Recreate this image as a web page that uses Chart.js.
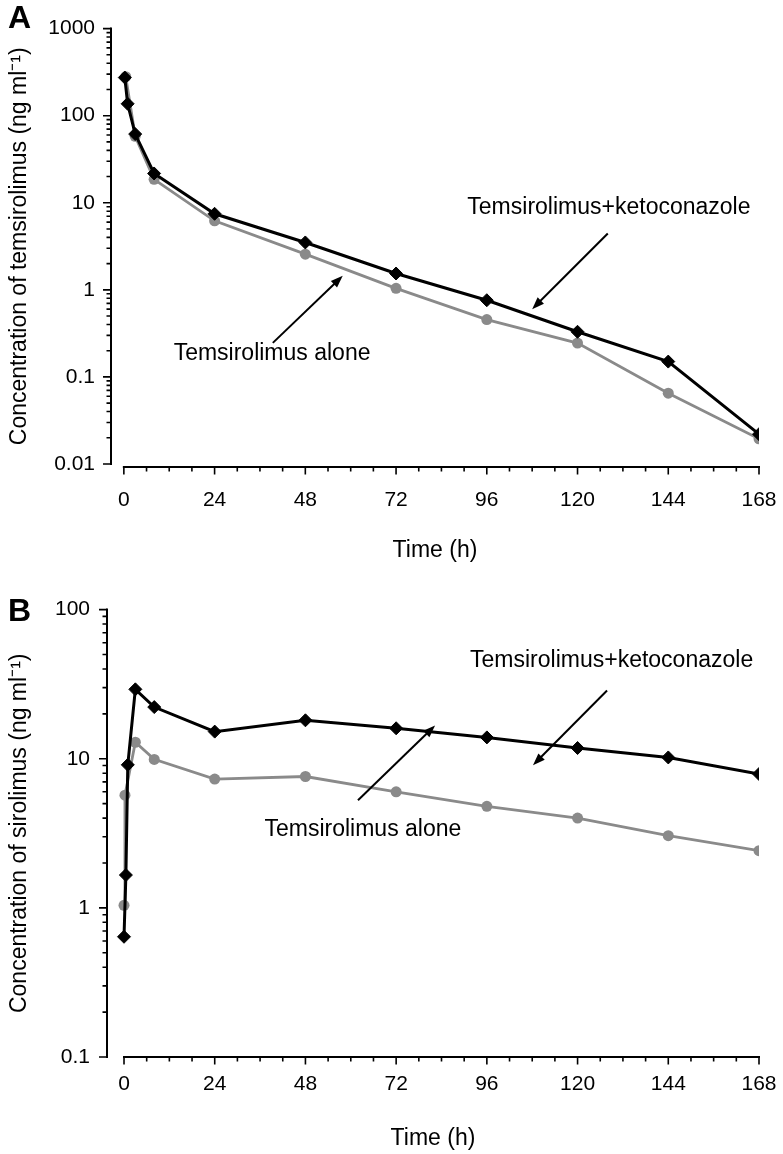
<!DOCTYPE html>
<html>
<head>
<meta charset="utf-8">
<script src="https://cdn.jsdelivr.net/npm/chart.js@4.4.1/dist/chart.umd.min.js"></script>
<style>
  html, body { margin: 0; padding: 0; background: #fff; }
  body { width: 783px; height: 1154px; position: relative; overflow: hidden; }
  canvas { position: absolute; left: 0; }
  #chartA { top: 0; }
  #chartB { top: 580px; }
</style>
</head>
<body>
<canvas id="chartA" width="783" height="580"></canvas>
<canvas id="chartB" width="783" height="574"></canvas>
<script>
// Panel A - temsirolimus in blood (ng/ml)
const timeKetoA = [0.25, 1, 3, 8, 24, 48, 72, 96, 120, 144, 168];
const concKetoA = [274, 137, 61.5, 21.7, 7.47, 3.5, 1.54, 0.76, 0.33, 0.15, 0.022];
const timeAloneA = [0.5, 3, 8, 24, 48, 72, 96, 120, 144, 168];
const concAloneA = [280, 58, 18.6, 6.2, 2.57, 1.04, 0.455, 0.245, 0.065, 0.0195];

// Panel B - sirolimus (metabolite)
const timeKetoB = [0, 0.5, 1, 3, 8, 24, 48, 72, 96, 120, 144, 168];
const concKetoB = [0.64, 1.66, 9.1, 29.2, 22.2, 15.2, 18.1, 16.0, 13.9, 11.8, 10.2, 7.9];
const timeAloneB = [0, 0.25, 3, 8, 24, 48, 72, 96, 120, 144, 168];
const concAloneB = [1.04, 5.7, 12.9, 9.9, 7.3, 7.6, 6.0, 4.8, 4.0, 3.05, 2.42];

// Axis ticks
const xTicks = [0, 24, 48, 72, 96, 120, 144, 168];
const xTickLabels = ["0", "24", "48", "72", "96", "120", "144", "168"];
const yTickLabelsA = ["0.01", "0.1", "1", "10", "100", "1000"];
const yTickLabelsB = ["0.1", "1", "10", "100"];

const fontFamily = '"Liberation Sans", Arial, Helvetica, sans-serif';
Chart.defaults.font.family = fontFamily;
Chart.defaults.color = "#000";

// monta os pontos {x, y} a partir das listas
function toPoints(times, values) {
  return times.map((t, i) => ({ x: t, y: values[i] }));
}

function isDecade(v) {
  const e = Math.log10(v);
  return Math.abs(e - Math.round(e)) < 1e-6;
}

function drawArrow(ctx, x0, y0, x1, y1) {
  const ang = Math.atan2(y1 - y0, x1 - x0);
  const head = 13;
  ctx.beginPath();
  ctx.moveTo(x0, y0);
  ctx.lineTo(x1 - Math.cos(ang) * head * 0.8, y1 - Math.sin(ang) * head * 0.8);
  ctx.stroke();
  ctx.beginPath();
  ctx.moveTo(x1, y1);
  ctx.lineTo(x1 - head * Math.cos(ang - 0.35), y1 - head * Math.sin(ang - 0.35));
  ctx.lineTo(x1 - head * Math.cos(ang + 0.35), y1 - head * Math.sin(ang + 0.35));
  ctx.closePath();
  ctx.fill();
}

// eixos desenhados a mao (eixo x separado do eixo y, ticks menores)
const decorPlugin = {
  id: "decor",
  beforeDatasetsDraw(chart, args, opts) {
    const { ctx, chartArea } = chart;
    const x = chart.scales.x;
    const y = chart.scales.y;
    const left = chartArea.left;
    const yTop = y.getPixelForValue(y.max);
    const yBottom = y.getPixelForValue(y.min);
    ctx.save();
    ctx.strokeStyle = "#000";
    ctx.lineWidth = 2;
    ctx.beginPath();
    ctx.moveTo(left, yTop - 1);
    ctx.lineTo(left, yBottom + 1);
    ctx.stroke();

    ctx.lineWidth = 1.6;
    ctx.beginPath();
    y.ticks.forEach((t) => {
      const py = y.getPixelForValue(t.value);
      const len = isDecade(t.value) ? 8 : 4.5;
      ctx.moveTo(left, py);
      ctx.lineTo(left - len, py);
    });
    ctx.stroke();

    // eixo x
    const xAxisY = chartArea.bottom + opts.xAxisOffset;
    const x0 = x.getPixelForValue(xTicks[0]);
    const x1 = x.getPixelForValue(xTicks[xTicks.length - 1]);
    ctx.lineWidth = 2;
    ctx.beginPath();
    ctx.moveTo(x0 - 1, xAxisY);
    ctx.lineTo(x1 + 1, xAxisY);
    ctx.stroke();
    ctx.lineWidth = 1.6;
    ctx.beginPath();
    for (let h = xTicks[0]; h <= xTicks[xTicks.length - 1]; h += 6) {
      const px = x.getPixelForValue(h);
      const len = h % 24 === 0 ? 7.5 : 4.5;
      ctx.moveTo(px, xAxisY);
      ctx.lineTo(px, xAxisY + len);
    }
    ctx.stroke();
    ctx.restore();
  },
  afterDatasetsDraw(chart, args, opts) {
    const { ctx } = chart;
    const x = chart.scales.x;
    const y = chart.scales.y;
    ctx.save();
    ctx.fillStyle = "#000";
    ctx.strokeStyle = "#000";
    ctx.lineWidth = 2;
    ctx.font = "23px " + fontFamily;
    ctx.textAlign = "center";
    ctx.textBaseline = "middle";
    opts.notes.forEach((n) => {
      ctx.fillText(n.text, x.getPixelForValue(n.at[0]), y.getPixelForValue(n.at[1]));
      drawArrow(
        ctx,
        x.getPixelForValue(n.from[0]), y.getPixelForValue(n.from[1]),
        x.getPixelForValue(n.to[0]), y.getPixelForValue(n.to[1])
      );
    });
    ctx.font = "bold 32px " + fontFamily;
    ctx.textAlign = "left";
    ctx.textBaseline = "alphabetic";
    ctx.fillText(opts.letter, opts.letterPos[0], opts.letterPos[1]);
    ctx.restore();
  },
};

function buildChart(canvasId, cfg) {
  const config = {
    type: "line",
    data: {
      datasets: [
        {
          label: "Temsirolimus+ketoconazole",
          data: toPoints(cfg.timeKeto, cfg.concKeto),
          borderColor: "#000",
          backgroundColor: "#000",
          borderWidth: 3,
          pointStyle: "rectRot",
          pointRadius: 6.5,
          pointBorderWidth: 1,
          tension: 0,
        },
        {
          label: "Temsirolimus alone",
          data: toPoints(cfg.timeAlone, cfg.concAlone),
          borderColor: "#8a8a8a",
          backgroundColor: "#8a8a8a",
          borderWidth: 2.8,
          pointStyle: "circle",
          pointRadius: 5.5,
          pointBorderWidth: 0,
          tension: 0,
        },
      ],
    },
    options: {
      responsive: false,
      animation: false,
      events: [],
      layout: { padding: { top: cfg.areaTop, right: 24, left: 0, bottom: 0 } },
      plugins: {
        legend: { display: false },
        tooltip: { enabled: false },
        decor: {
          notes: cfg.notes,
          letter: cfg.letter,
          letterPos: cfg.letterPos,
          xAxisOffset: cfg.xAxisOffset,
        },
      },
      scales: {
        x: {
          type: "linear",
          min: cfg.xMin,
          max: 168,
          grid: { display: false, drawTicks: false },
          border: { display: false },
          afterBuildTicks: (scale) => {
            scale.ticks = xTicks.map((v) => ({ value: v }));
          },
          afterFit: (scale) => {
            scale.height = cfg.xHeight;
            scale.paddingLeft = 0;
            scale.paddingRight = 0;
          },
          ticks: {
            autoSkip: false,
            maxRotation: 0,
            padding: cfg.xLabelPad,
            font: { size: 21 },
            callback: (value, index) => xTickLabels[index],
          },
          title: {
            display: true,
            text: "Time (h)",
            font: { size: 23 },
            padding: { top: 0, bottom: cfg.xTitlePad },
          },
        },
        y: {
          type: "logarithmic",
          min: cfg.yMin,
          max: cfg.yMax,
          grid: { display: false, drawTicks: false },
          border: { display: false },
          afterBuildTicks: (scale) => {
            const ticks = [];
            for (let e = Math.round(Math.log10(cfg.yMin)); e <= Math.round(Math.log10(cfg.yMax)); e++) {
              for (let k = 1; k <= 9; k++) {
                const v = k * Math.pow(10, e);
                if (v <= cfg.yMax * 1.0001) ticks.push({ value: v });
              }
            }
            scale.ticks = ticks;
          },
          afterFit: (scale) => {
            scale.width = cfg.yWidth;
          },
          ticks: {
            autoSkip: false,
            padding: cfg.yLabelPad,
            font: { size: 21 },
            callback: (value) => {
              if (!isDecade(value)) return "";
              const lbl = cfg.yLabels.find((l) => Math.abs(Math.log10(Number(l)) - Math.log10(value)) < 1e-6);
              return lbl || "";
            },
          },
          title: {
            display: true,
            text: cfg.yTitle,
            font: { size: 23 },
            padding: { top: 6, bottom: 0 },
          },
        },
      },
    },
    plugins: [decorPlugin],
  };
  return new Chart(document.getElementById(canvasId), config);
}

const chartA = buildChart("chartA", {
  timeKeto: timeKetoA,
  concKeto: concKetoA,
  timeAlone: timeAloneA,
  concAlone: concAloneA,
  yMin: 0.01,
  yMax: 1000,
  yLabels: yTickLabelsA,
  yTitle: "Concentration of temsirolimus (ng ml\u207B\u00B9)",
  areaTop: 22,
  yWidth: 111,
  xHeight: 116,
  xMin: -3.4,
  xLabelPad: 24,
  xTitlePad: 16,
  yLabelPad: 16,
  xAxisOffset: 3,
  letter: "A",
  letterPos: [8, 28],
  notes: [
    { text: "Temsirolimus+ketoconazole", at: [128.3, 8.85], from: [128, 4.44], to: [108, 0.6] },
    { text: "Temsirolimus alone", at: [39.2, 0.185], from: [39.4, 0.246], to: [57.9, 1.45] },
  ],
});

const chartB = buildChart("chartB", {
  timeKeto: timeKetoB,
  concKeto: concKetoB,
  timeAlone: timeAloneB,
  concAlone: concAloneB,
  yMin: 0.1,
  yMax: 100,
  yLabels: yTickLabelsB,
  yTitle: "Concentration of sirolimus (ng ml\u207B\u00B9)",
  areaTop: 29,
  yWidth: 107,
  xHeight: 97,
  xMin: -4.5,
  xLabelPad: 15,
  xTitlePad: 2,
  yLabelPad: 17,
  xAxisOffset: 0,
  letter: "B",
  letterPos: [8, 41],
  notes: [
    { text: "Temsirolimus+ketoconazole", at: [129, 45.6], from: [127.8, 28.7], to: [108.2, 9.05] },
    { text: "Temsirolimus alone", at: [63.2, 3.33], from: [61.9, 5.27], to: [82.3, 16.7] },
  ],
});
</script>
</body>
</html>
